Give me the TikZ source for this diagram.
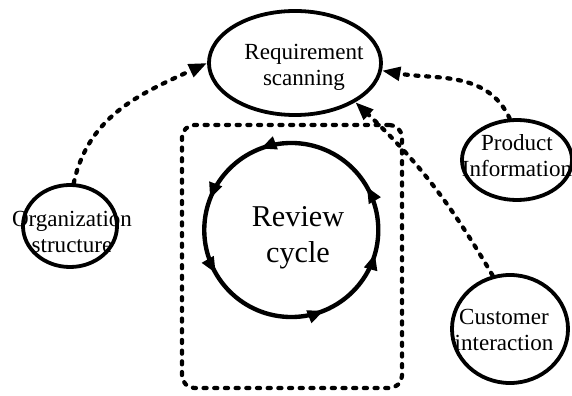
\documentclass[tikz,border=0pt]{standalone}
\usepackage{fontspec}
\setmainfont{Liberation Serif}
\usetikzlibrary{shapes.geometric,arrows.meta,decorations.markings}
\begin{document}
\begin{tikzpicture}[x=0.025cm,y=0.025cm,
  ell/.style={draw, ellipse, line width=2.7pt, inner sep=0pt},
  lbl/.style={font=\fontsize{16.4pt}{18.5pt}\selectfont, align=center, inner sep=0pt},
  dashline/.style={line width=3pt, line cap=round, dash pattern=on 2.2pt off 5.4pt},
  tip/.style={-{Triangle[length=13pt,width=9.5pt]}},
  cyc/.style={line width=3.1pt},
  cyctip/.tip={Triangle[length=11.5pt,width=9pt]}
]
\useasboundingbox (0,0) rectangle (572,395);
% nodes
\node[ell, minimum width=4.3cm, minimum height=2.6cm,
  label={[lbl, xshift=9*0.025cm, yshift=-4*0.025cm]center:Requirement\\scanning}] (req) at (295,332) {};
\node[ell, minimum width=2.35cm, minimum height=2.05cm,
  label={[lbl, xshift=2*0.025cm, yshift=-6*0.025cm]center:Organization\\structure}] (org) at (70,169) {};
\node[ell, minimum width=2.75cm, minimum height=2.0cm,
  label={[lbl, yshift=4*0.025cm]center:Product\\Information}] (prod) at (517,235) {};
\node[ell, minimum width=2.9cm, minimum height=2.7cm,
  label={[lbl, xshift=-6*0.025cm, yshift=-1*0.025cm]center:Customer\\interaction}] (cust) at (510,66) {};
\node[dashline, draw, rounded corners=9pt, minimum width=5.5cm, minimum height=6.575cm] (box) at (292,138.5) {};
\node[circle, minimum size=4.35cm, inner sep=0pt,
  label={[font=\fontsize{21.5pt}{25.6pt}\selectfont, align=center, inner sep=0pt, xshift=7*0.025cm, yshift=-8*0.025cm]center:Review\\cycle}] (cycle) at (291,165) {};
% review cycle with arrowheads
\draw[cyc, decoration={markings,
    mark=at position 0.083 with {\arrow{cyctip}},
    mark=at position 0.308 with {\arrow{cyctip}},
    mark=at position 0.442 with {\arrow{cyctip}},
    mark=at position 0.583 with {\arrow{cyctip}},
    mark=at position 0.811 with {\arrow{cyctip}},
    mark=at position 0.956 with {\arrow{cyctip}}},
  postaction={decorate}]
  (cycle.east) arc[start angle=0, end angle=360, radius=2.175cm];
% connectors
\draw[dashline, tip] (org.85) to[out=78, in=205] (req.west);
\draw[dashline, tip] (prod.100) to[out=115, in=-10] (req.-5);
\draw[dashline, tip] (cust.108) to[bend right=8] (req.-33);
\end{tikzpicture}
\end{document}
